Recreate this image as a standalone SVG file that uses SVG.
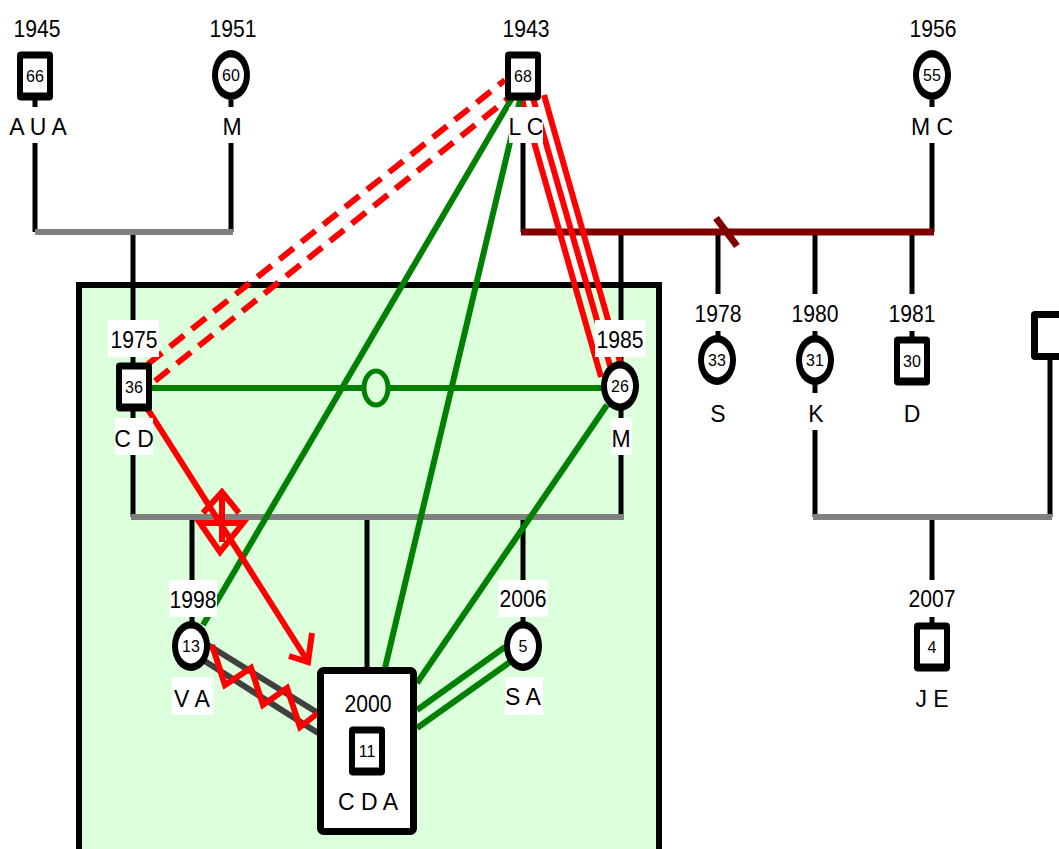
<svg xmlns="http://www.w3.org/2000/svg" width="1059" height="849" viewBox="0 0 1059 849">
<style>
.ln{stroke:#000;stroke-width:5;fill:none}
.gl{stroke:#808080;stroke-width:6;fill:none}
.dr{stroke:#800000;stroke-width:7;fill:none}
.g{stroke:#008000;stroke-width:6;fill:none}
.r{stroke:#ff0000;stroke-width:6;fill:none}
.rd{stroke:#ff0000;stroke-width:6;fill:none;stroke-dasharray:18 10}
.zg{stroke:#404040;stroke-width:6;fill:none}
.bg{fill:#fff}
.t{font-family:"Liberation Sans",Arial,sans-serif;font-size:23px;text-anchor:middle;fill:#000}
.n{font-family:"Liberation Sans",Arial,sans-serif;font-size:16px;text-anchor:middle;fill:#000}
</style>
<defs>
<g id="sq"><rect x="-18" y="-24.5" width="36" height="49" rx="4" fill="#000"/><rect x="-12" y="-17.5" width="24" height="34" fill="#fff"/></g>
<g id="ci"><ellipse cx="0" cy="0" rx="19" ry="25" fill="#000"/><ellipse cx="0" cy="0" rx="13" ry="17.5" fill="#fff"/></g>
</defs>
<rect width="1059" height="849" fill="#fff"/>
<rect id="household" x="79" y="285" width="580" height="600" fill="#dcffdc" stroke="#000" stroke-width="6"/>
<g id="family-lines">
<line class="ln" x1="35" y1="100" x2="35" y2="232"/>
<line class="ln" x1="231" y1="100" x2="231" y2="232"/>
<line class="ln" x1="523" y1="100" x2="523" y2="232"/>
<line class="ln" x1="932" y1="100" x2="932" y2="232"/>
<line class="ln" x1="133" y1="232" x2="133" y2="517"/>
<line class="ln" x1="621" y1="232" x2="621" y2="517"/>
<line class="ln" x1="718" y1="232" x2="718" y2="336"/>
<line class="ln" x1="815" y1="232" x2="815" y2="517"/>
<line class="ln" x1="912" y1="232" x2="912" y2="337"/>
<line class="ln" x1="1050" y1="358" x2="1050" y2="517"/>
<line class="ln" x1="932" y1="517" x2="932" y2="623"/>
<line class="ln" x1="192" y1="517" x2="192" y2="622"/>
<line class="ln" x1="367" y1="517" x2="367" y2="668"/>
<line class="ln" x1="523" y1="517" x2="523" y2="622"/>
<line class="gl" x1="35" y1="232" x2="233" y2="232"/>
<line class="dr" x1="521" y1="232" x2="934" y2="232"/>
<line class="dr" x1="716" y1="218" x2="737" y2="246"/>
<line class="gl" x1="131" y1="517" x2="624" y2="517"/>
<line class="gl" x1="813" y1="517" x2="1052" y2="517"/>
</g>
<g id="connectors">
<line class="rd" x1="148" y1="364" x2="505" y2="80"/>
<line class="rd" x1="155" y1="381" x2="510" y2="97"/>
<line class="r" x1="522" y1="100" x2="601" y2="377"/>
<line class="r" x1="533" y1="98" x2="611" y2="369"/>
<line class="r" x1="544" y1="95" x2="620" y2="362"/>
<line class="g" x1="512" y1="98" x2="203" y2="625"/>
<line class="g" x1="520" y1="100" x2="385" y2="668"/>
<line class="g" x1="607" y1="405" x2="417" y2="683"/>
<line class="g" x1="505" y1="647" x2="417" y2="710"/>
<line class="g" x1="510" y1="662" x2="417" y2="728"/>
<line class="g" x1="150" y1="388" x2="603" y2="388"/>
<ellipse cx="376" cy="388" rx="12" ry="17" fill="#dcffdc" stroke="#008000" stroke-width="5"/>
<line class="r" x1="147" y1="408" x2="307" y2="660"/>
<polyline class="r" points="289,656 308,662 312,633"/>
<polyline class="r" points="203,513 222,492 239,513"/>
<polygon class="r" points="200,523 243,523 220,552"/>
<line class="r" x1="222" y1="492" x2="222" y2="542"/>
<line class="zg" x1="208" y1="645" x2="318" y2="713"/>
<line class="zg" x1="203" y1="660" x2="318" y2="733"/>
<polyline class="r" points="212,645 225,685 251,668 263,705 287,688 300,727 318,713"/>
</g>
<g id="n1945"><use href="#sq" x="35" y="76"/><text class="n" x="35" y="82">66</text><text class="t" x="37" y="37" textLength="47" lengthAdjust="spacingAndGlyphs">1945</text><rect class="bg" x="10" y="107" width="57" height="36"/><text class="t" x="38" y="135">A U A</text></g>
<g id="n1951"><use href="#ci" x="231" y="75"/><text class="n" x="231" y="81">60</text><text class="t" x="233" y="37" textLength="47" lengthAdjust="spacingAndGlyphs">1951</text><rect class="bg" x="220" y="107" width="23" height="36"/><text class="t" x="232" y="135">M</text></g>
<g id="n1943"><use href="#sq" x="523" y="76"/><text class="n" x="523" y="82">68</text><text class="t" x="526" y="37" textLength="47" lengthAdjust="spacingAndGlyphs">1943</text><rect class="bg" x="509" y="107" width="34" height="36"/><text class="t" x="526" y="135">L C</text></g>
<g id="n1956"><use href="#ci" x="932" y="75"/><text class="n" x="932" y="81">55</text><text class="t" x="933" y="37" textLength="47" lengthAdjust="spacingAndGlyphs">1956</text><rect class="bg" x="914" y="107" width="36" height="36"/><text class="t" x="932" y="135">M C</text></g>
<g id="n1975"><use href="#sq" x="134" y="387"/><text class="n" x="134" y="393">36</text><rect class="bg" x="108" y="320" width="51" height="37"/><text class="t" x="134" y="348" textLength="47" lengthAdjust="spacingAndGlyphs">1975</text><rect class="bg" x="115" y="418" width="38" height="37"/><text class="t" x="134" y="447">C D</text></g>
<g id="n1985"><use href="#ci" x="620" y="386"/><text class="n" x="620" y="392">26</text><rect class="bg" x="595" y="320" width="51" height="37"/><text class="t" x="620" y="348" textLength="47" lengthAdjust="spacingAndGlyphs">1985</text><rect class="bg" x="611" y="418" width="21" height="37"/><text class="t" x="621" y="447">M</text></g>
<g id="n1978"><use href="#ci" x="717" y="360"/><text class="n" x="717" y="366">33</text><rect class="bg" x="694" y="294" width="48" height="37"/><text class="t" x="718" y="322" textLength="47" lengthAdjust="spacingAndGlyphs">1978</text><rect class="bg" x="707" y="393" width="21" height="37"/><text class="t" x="718" y="422">S</text></g>
<g id="n1980"><use href="#ci" x="815" y="360"/><text class="n" x="815" y="366">31</text><rect class="bg" x="791" y="294" width="48" height="37"/><text class="t" x="815" y="322" textLength="47" lengthAdjust="spacingAndGlyphs">1980</text><rect class="bg" x="805" y="393" width="21" height="37"/><text class="t" x="816" y="422">K</text></g>
<g id="n1981"><use href="#sq" x="912" y="361"/><text class="n" x="912" y="367">30</text><rect class="bg" x="888" y="294" width="48" height="37"/><text class="t" x="912" y="322" textLength="47" lengthAdjust="spacingAndGlyphs">1981</text><rect class="bg" x="902" y="393" width="21" height="37"/><text class="t" x="912" y="422">D</text></g>
<g id="nright"><rect x="1031" y="311" width="50" height="49" rx="4" fill="#000"/><rect x="1038" y="318" width="40" height="35" fill="#fff"/></g>
<g id="n1998"><use href="#ci" x="191" y="646"/><text class="n" x="191" y="652">13</text><rect class="bg" x="169" y="580" width="48" height="37"/><text class="t" x="193" y="608" textLength="47" lengthAdjust="spacingAndGlyphs">1998</text><rect class="bg" x="172" y="677" width="41" height="38"/><text class="t" x="192" y="707">V A</text></g>
<g id="n2006"><use href="#ci" x="523" y="646"/><text class="n" x="523" y="652">5</text><rect class="bg" x="498" y="580" width="50" height="37"/><text class="t" x="523" y="607" textLength="47" lengthAdjust="spacingAndGlyphs">2006</text><rect class="bg" x="505" y="677" width="38" height="38"/><text class="t" x="523" y="705">S A</text></g>
<g id="n2007"><use href="#sq" x="932" y="647"/><text class="n" x="932" y="653">4</text><rect class="bg" x="908" y="580" width="48" height="37"/><text class="t" x="932" y="607" textLength="47" lengthAdjust="spacingAndGlyphs">2007</text><rect class="bg" x="914" y="678" width="36" height="37"/><text class="t" x="932" y="707">J E</text></g>
<g id="n2000"><rect x="320.5" y="670.5" width="93" height="161" rx="3" fill="#fff" stroke="#000" stroke-width="7"/><text class="t" x="368" y="712" textLength="47" lengthAdjust="spacingAndGlyphs">2000</text><use href="#sq" x="367" y="751"/><text class="n" x="367" y="757">11</text><text class="t" x="368" y="810">C D A</text></g>
</svg>
